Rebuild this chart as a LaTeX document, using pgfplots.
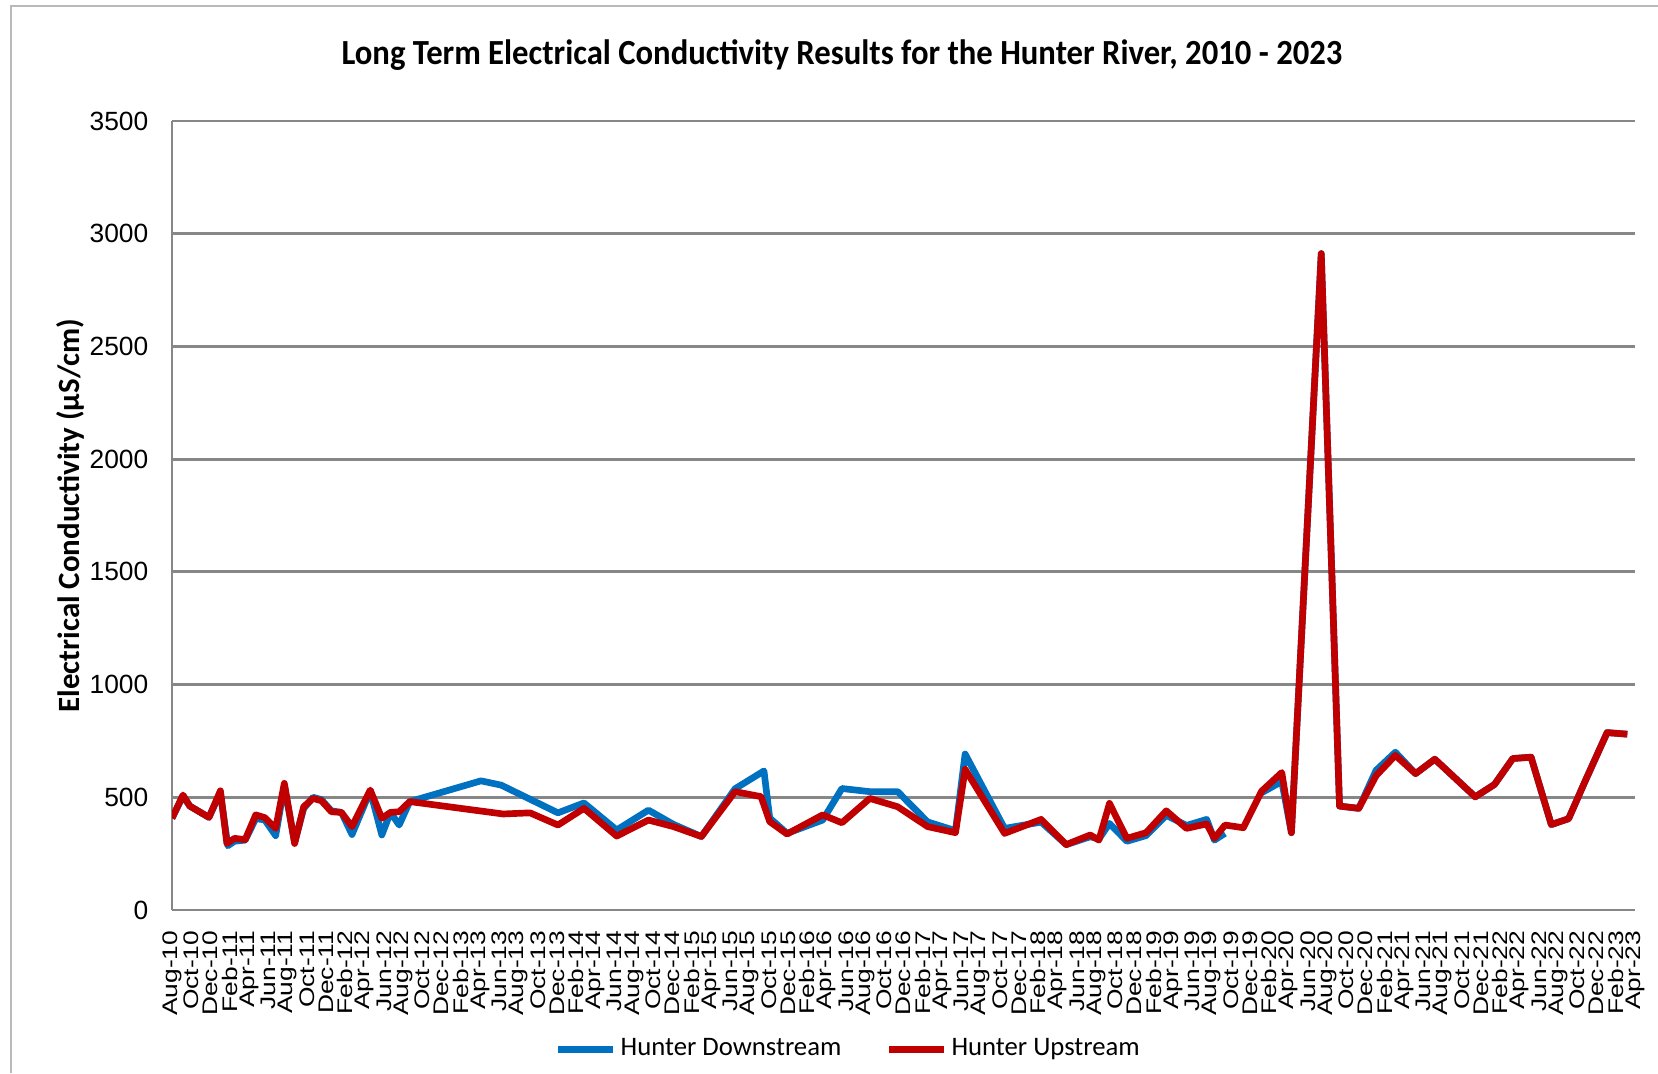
\documentclass[border=0pt]{standalone}
\usepackage{fontspec}
\setmainfont{Carlito}
\newfontfamily\tickfont{Liberation Sans}
\usepackage{pgfplots}
\pgfplotsset{compat=1.18}
\definecolor{dsblue}{HTML}{0070C0}
\definecolor{usred}{HTML}{C00000}
\definecolor{gridgray}{HTML}{878787}

% x = months since Aug-2010
\pgfplotstableread{
x y
0 407
1.14 505
1.85 461
3.84 411
5.03 520
5.8 285
6.5 305
7.6 310
8.7 405
9.63 400
10.77 330
11.67 552
12.74 300
13.68 450
14.65 500
15.52 490
16.56 440
17.6 433
18.7 335
20.6 528
21.8 333
22.7 433
23.6 377
24.7 481
32.1 573
34.2 554
40.1 431
42.8 475
46.2 355
49.5 443
52.1 380
55.0 326
58.5 538
61.5 617
62.1 408
63.9 340
67.6 399
69.6 539
72.5 525
75.4 525
78.5 391
81.4 352
82.4 692
86.5 362
90.3 390
92.9 290
95.4 325
96.3 315
97.4 384
99.2 305
101.2 330
103.3 420
105.4 375
107.5 402
108.3 310
109.4 340
110 nan
113.2 520
115.3 570
116.3 343
119.4 2912
121.3 461
123.3 451
125.1 620
127.1 700
129.2 605
131.2 669
135.4 502
137.4 557
139.3 672
141.2 678
143.3 379
145.1 405
146.8 570
149.1 787
151.2 780
}\downstream

\pgfplotstableread{
x y
0 407
1.14 510
1.85 461
3.84 411
5.03 529
5.7 295
6.5 318
7.6 312
8.7 422
9.63 410
10.77 362
11.67 562
12.74 295
13.68 458
14.65 495
15.52 485
16.56 436
17.6 433
18.7 370
20.6 532
21.8 407
22.7 433
23.6 436
24.7 481
34.4 426
37.2 431
40.1 377
42.8 451
46.2 328
49.5 399
52.1 370
55.0 326
58.5 525
61.2 503
62.1 392
63.9 337
67.6 422
69.6 387
72.5 495
75.4 458
78.5 370
81.4 343
82.4 624
86.5 340
90.3 402
92.9 290
95.4 333
96.3 310
97.4 473
99.2 318
101.2 343
103.3 440
105.4 362
107.5 382
108.3 318
109.4 377
111.3 365
113.2 527
115.3 610
116.3 343
119.4 2912
121.3 461
123.3 451
125.1 596
127.1 686
129.2 605
131.2 669
135.4 502
137.4 557
139.3 672
141.2 678
143.3 379
145.1 405
146.8 570
149.1 787
151.2 780
}\upstream

\begin{document}
\begin{tikzpicture}
\useasboundingbox (0,0) rectangle (16.58cm,10.73cm);
\draw[gray!55, line width=0.5pt] (0.11cm,0cm) -- (0.11cm,10.67cm) -- (16.58cm,10.67cm);
\node[font=\bfseries\fontsize{9.3}{11}\selectfont, yscale=1.08] at (8.42cm,10.18cm)
  {Long Term Electrical Conductivity Results for the Hunter River, 2010 - 2023};
\begin{axis}[
  at={(1.72cm,1.63cm)}, anchor=south west,
  scale only axis, width=14.63cm, height=7.89cm,
  xmin=0, xmax=152, ymin=0, ymax=3500,
  enlargelimits=false,
  axis x line*=bottom, axis y line*=left,
  axis line style={gridgray, line width=0.8pt},
  major tick length=0pt,
  ytick={0,500,...,3500},
  ymajorgrids,
  major grid style={gridgray, line width=0.8pt},
  /pgf/number format/assume math mode=true,
  /pgf/number format/1000 sep={},
  yticklabel style={font=\tickfont\fontsize{7.5}{9}\selectfont, anchor=east, inner sep=0pt},
  yticklabel shift=2.3mm,
  xtick={0,2,...,152},
  xticklabels={Aug-10,Oct-10,Dec-10,
    Feb-11,Apr-11,Jun-11,Aug-11,Oct-11,Dec-11,
    Feb-12,Apr-12,Jun-12,Aug-12,Oct-12,Dec-12,
    Feb-13,Apr-13,Jun-13,Aug-13,Oct-13,Dec-13,
    Feb-14,Apr-14,Jun-14,Aug-14,Oct-14,Dec-14,
    Feb-15,Apr-15,Jun-15,Aug-15,Oct-15,Dec-15,
    Feb-16,Apr-16,Jun-16,Aug-16,Oct-16,Dec-16,
    Feb-17,Apr-17,Jun-17,Aug-17,Oct-17,Dec-17,
    Feb-18,Apr-18,Jun-18,Aug-18,Oct-18,Dec-18,
    Feb-19,Apr-19,Jun-19,Aug-19,Oct-19,Dec-19,
    Feb-20,Apr-20,Jun-20,Aug-20,Oct-20,Dec-20,
    Feb-21,Apr-21,Jun-21,Aug-21,Oct-21,Dec-21,
    Feb-22,Apr-22,Jun-22,Aug-22,Oct-22,Dec-22,
    Feb-23,Apr-23},
  xticklabel style={font=\tickfont\fontsize{7.5}{9}\selectfont, rotate=90, yscale=0.8, anchor=east, inner sep=0pt},
  xticklabel shift=2mm,
  ylabel={Electrical Conductivity (µS/cm)},
  ylabel style={font=\bfseries\fontsize{8.8}{10}\selectfont, at={(axis description cs:-0.0697,0.5)}, anchor=center},
  unbounded coords=jump,
  legend columns=2,
  legend style={at={(axis description cs:0.463,-0.177)}, anchor=center, draw=none, fill=none,
    font=\fontsize{7.6}{9}\selectfont, inner sep=0pt,
    nodes={inner xsep=1.2pt},
    /tikz/every even column/.append style={column sep=4mm}},
  legend image code/.code={\draw[#1] (0cm,0cm) -- (0.55cm,0cm);},
]
\addplot[dsblue, line width=1.9pt, line join=round, no marks] table {\downstream};
\addlegendentry{Hunter Downstream}
\addplot[usred, line width=1.9pt, line join=round, no marks] table {\upstream};
\addlegendentry{Hunter Upstream}
\end{axis}
\end{tikzpicture}
\end{document}
